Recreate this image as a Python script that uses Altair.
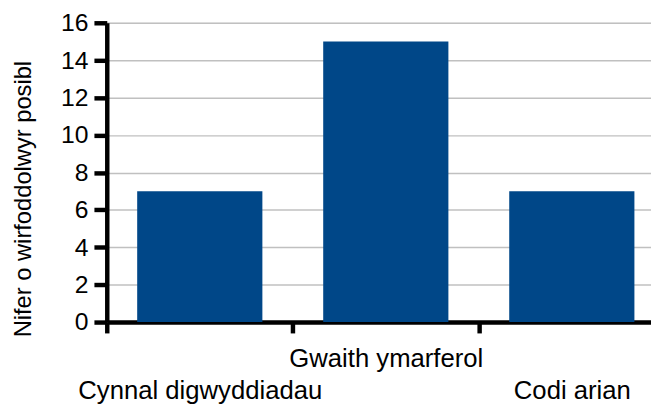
import altair as alt
import pandas as pd

categories = ["Cynnal digwyddiadau", "Gwaith ymarferol", "Codi arian"]
values = [7, 15, 7]
y_ticks = [0, 2, 4, 6, 8, 10, 12, 14, 16]
y_title = "Nifer o wirfoddolwyr posibl"

df = pd.DataFrame({"cat": categories, "val": values})

FONT = "Liberation Sans"

chart = alt.Chart(df).mark_bar(color="#004788", width=alt.RelativeBandSize(0.673)).encode(
    x=alt.X(
        "cat:N",
        sort=categories,
        title=None,
        scale=alt.Scale(paddingInner=0, paddingOuter=0),
        axis=alt.Axis(
            labelAngle=0,
            labelFont=FONT,
            labelFontSize=26,
            labelColor="#000000",
            labelLineHeight=32,
            labelPadding=13,
            labelLimit=0,
            labelExpr="datum.value == 'Gwaith ymarferol' ? datum.label : ['', datum.label]",
            tickBand="extent",
            tickSize=11,
            tickWidth=4.5,
            tickColor="#000000",
            domainColor="#000000",
            domainWidth=4.5,
            grid=False,
        ),
    ),
    y=alt.Y(
        "val:Q",
        title=y_title,
        scale=alt.Scale(domain=[0, 16], nice=False),
        axis=alt.Axis(
            values=y_ticks,
            labelFont=FONT,
            labelFontSize=25,
            labelColor="#000000",
            labelPadding=6,
            tickSize=13,
            tickWidth=4.5,
            tickColor="#000000",
            domainColor="#000000",
            domainWidth=4.5,
            grid=True,
            gridColor="#c0c0c0",
            gridWidth=1.5,
            titleFont=FONT,
            titleFontSize=24,
            titleFontWeight="normal",
            titleColor="#000000",
            titleX=-77,
            titleY=178,
            titleBaseline="alphabetic",
            titleAngle=270,
            titleAlign="center",
        ),
    ),
).properties(
    width=565,
    height=303,
    autosize=alt.AutoSizeParams(type="none"),
    padding={"left": 100, "top": 12.5, "right": -14, "bottom": 82},
).configure_view(stroke=None).configure(background="#ffffff")

chart.save("out.html", embed_options={"renderer": "svg", "actions": False})
